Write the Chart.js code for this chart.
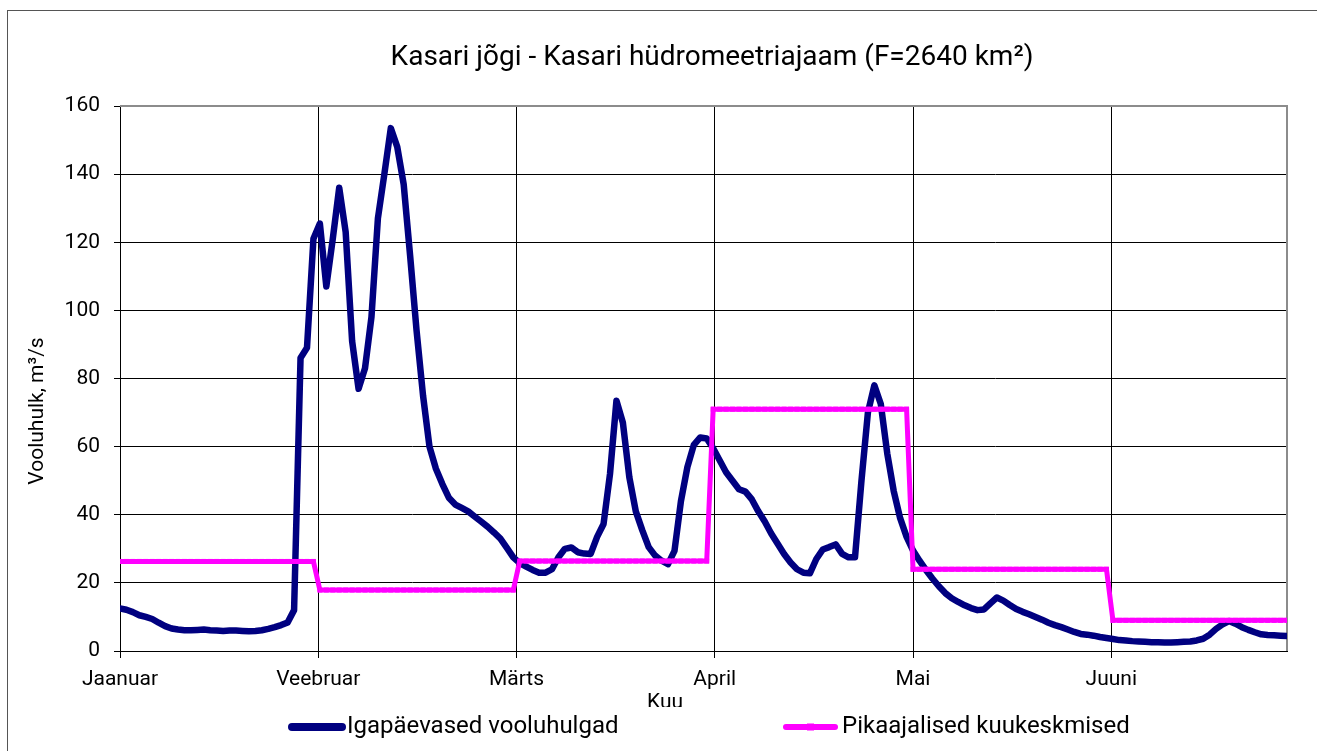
<!DOCTYPE html>
<html>
<head>
<meta charset="utf-8">
<script src="https://cdn.jsdelivr.net/npm/chart.js@4.4.0/dist/chart.umd.min.js"></script>
<style>
  html, body { margin: 0; padding: 0; background: #fff; overflow: hidden; }
  #wrap { position: relative; width: 1317px; height: 751px; }
  canvas { position: absolute; left: 0; top: 0; }
</style>
</head>
<body>
<div id="wrap"><canvas id="myChart" width="1317" height="751"></canvas></div>
<script>
// Igapäevased vooluhulgad, m3/s (1. jaanuar ... 30. juuni)
const dailyFlow = [
    12.5, 12.1, 11.4, 10.5, 10.0, 9.4, 8.3, 7.3, 6.6, 6.3,
    6.1, 6.1, 6.2, 6.3, 6.1, 6.0, 5.9, 6.0, 6.0, 5.9,
    5.8, 5.9, 6.1, 6.5, 7.0, 7.6, 8.4, 12.0, 86, 89,
    121, 125.5, 107, 121, 136, 123, 91, 77, 83, 98,
    127, 140, 153.5, 148, 137, 116, 94, 75, 60, 53.5,
    49, 45, 43, 42, 41, 39.5, 38, 36.5, 34.8, 33,
    30.3, 27.5, 25.8, 24.8, 23.8, 23.0, 23.0, 24.0, 27.5, 30.0,
    30.4, 29.0, 28.6, 28.5, 33.5, 37.3, 52, 73.5, 67, 51,
    41, 35.5, 30.5, 28, 26.5, 25.5, 29.4, 44, 54, 60.5,
    62.7, 62.4, 59.5, 56, 52.5, 50, 47.5, 46.8, 44.5, 41,
    38, 34.5, 31.5, 28.5, 26, 24, 23, 22.8, 27, 29.8,
    30.5, 31.3, 28.5, 27.5, 27.5, 50, 70, 78, 72.5, 58,
    47, 39, 33.5, 29.5, 26.5, 23.8, 21.3, 19, 17, 15.5,
    14.4, 13.4, 12.6, 12.0, 12.2, 14.0, 15.7, 14.8, 13.5, 12.3,
    11.5, 10.8, 10.0, 9.2, 8.3, 7.6, 7.0, 6.3, 5.6, 5.0,
    4.8, 4.5, 4.1, 3.8, 3.5, 3.2, 3.1, 2.9, 2.8, 2.7,
    2.6, 2.6, 2.5, 2.5, 2.6, 2.7, 2.8, 3.1, 3.6, 4.8,
    6.5, 7.8, 8.8, 8.0, 7.0, 6.2, 5.5, 4.9, 4.7, 4.6,
    4.5, 4.4
];

// Pikaajalised kuukeskmised
const monthNames = ['Jaanuar', 'Veebruar', 'Märts', 'April', 'Mai', 'Juuni'];
const monthMeans = [26.3, 17.9, 26.4, 71, 24, 9];
const monthStartDay = [0, 31, 62, 92, 123, 154];
const monthTickPos = [0, 30.75, 61.5, 92.25, 123, 153.75];
const yTicks = [0, 20, 40, 60, 80, 100, 120, 140, 160];

const titleText = 'Kasari jõgi - Kasari hüdromeetriajaam (F=2640 km²)';
const yTitle = 'Vooluhulk, m³/s';
const xTitle = 'Kuu';
const seriesNames = ['Igapäevased vooluhulgad', 'Pikaajalised kuukeskmised'];

const blue = '#000080';
const pink = '#FF00FF';
const FONT = 'Roboto';

const dailyPoints = dailyFlow.map((v, i) => ({ x: i, y: v }));
const meanPoints = dailyFlow.map((v, i) => {
    let m = 0;
    for (let k = 0; k < monthStartDay.length; k++) {
        if (i >= monthStartDay[k]) m = k;
    }
    return { x: i, y: monthMeans[m] };
});

// рамка, заголовки и легенда
const decor = {
    id: 'decor',
    beforeDatasetsDraw(chart) {
        const { ctx, chartArea: a } = chart;
        ctx.save();
        ctx.strokeStyle = '#8c8c8c';
        ctx.lineWidth = 2;
        ctx.beginPath();
        ctx.moveTo(a.left, a.top);
        ctx.lineTo(a.right, a.top);
        ctx.lineTo(a.right, a.bottom);
        ctx.stroke();
        ctx.restore();
    },
    afterDraw(chart) {
        const { ctx } = chart;
        ctx.save();
        // внешняя рамка
        ctx.strokeStyle = '#555';
        ctx.lineWidth = 1;
        ctx.strokeRect(7.5, 10.5, 1400, 800);

        ctx.fillStyle = '#000';
        ctx.textAlign = 'center';
        ctx.textBaseline = 'middle';
        ctx.font = '28px ' + FONT;
        ctx.fillText(titleText, 712, 58);

        ctx.font = '21px ' + FONT;
        ctx.save();
        ctx.translate(38, 411);
        ctx.rotate(-Math.PI / 2);
        ctx.fillText(yTitle, 0, 0);
        ctx.restore();

        ctx.fillText(xTitle, 665, 703);

        // легенда поверх подписи оси
        ctx.fillStyle = '#fff';
        ctx.fillRect(270, 707, 880, 44);

        ctx.lineCap = 'round';
        ctx.strokeStyle = blue;
        ctx.lineWidth = 8;
        ctx.beginPath();
        ctx.moveTo(292, 727);
        ctx.lineTo(342, 727);
        ctx.stroke();

        ctx.strokeStyle = pink;
        ctx.lineWidth = 6;
        ctx.beginPath();
        ctx.moveTo(786, 727);
        ctx.lineTo(835, 727);
        ctx.stroke();
        ctx.fillStyle = pink;
        ctx.fillRect(807, 723.5, 7, 7);

        ctx.fillStyle = '#000';
        ctx.textAlign = 'left';
        ctx.font = '24px ' + FONT;
        ctx.fillText(seriesNames[0], 347, 727);
        ctx.fillText(seriesNames[1], 842, 727);
        ctx.restore();
    }
};

const ctx = document.getElementById('myChart').getContext('2d');
const myChart = new Chart(ctx, {
    type: 'line',
    data: {
        datasets: [
            {
                label: seriesNames[0],
                data: dailyPoints,
                borderColor: blue,
                borderWidth: 6.5,
                borderJoinStyle: 'round',
                borderCapStyle: 'round',
                pointRadius: 0,
                tension: 0,
                fill: false,
                order: 1
            },
            {
                label: seriesNames[1],
                data: meanPoints,
                borderColor: pink,
                backgroundColor: pink,
                borderWidth: 5,
                pointStyle: 'rect',
                pointRadius: 3.5,
                pointBorderWidth: 0,
                tension: 0,
                fill: false,
                order: 0
            }
        ]
    },
    options: {
        responsive: false,
        animation: false,
        devicePixelRatio: 1,
        layout: { padding: { left: 0, top: 106, right: 30, bottom: 0 } },
        plugins: {
            legend: { display: false },
            title: { display: false },
            tooltip: { enabled: false }
        },
        scales: {
            x: {
                type: 'linear',
                min: 0,
                max: dailyFlow.length - 1,
                afterFit: s => { s.height = 100; },
                afterBuildTicks: s => { s.ticks = monthTickPos.map(v => ({ value: v })); },
                ticks: {
                    callback: (v, i) => monthNames[i],
                    font: { family: FONT, size: 21 },
                    color: '#000',
                    padding: 9,
                    maxRotation: 0,
                    autoSkip: false
                },
                grid: { color: '#000', lineWidth: 1, tickLength: 7 },
                border: { color: '#000', width: 1 }
            },
            y: {
                min: 0,
                max: 160,
                afterFit: s => { s.width = 120; },
                afterBuildTicks: s => { s.ticks = yTicks.map(v => ({ value: v })); },
                ticks: {
                    font: { family: FONT, size: 21 },
                    color: '#000',
                    padding: 14
                },
                grid: { color: '#000', lineWidth: 1, tickLength: 6 },
                border: { color: '#000', width: 1 }
            }
        }
    },
    plugins: [decor]
});
</script>
</body>
</html>
